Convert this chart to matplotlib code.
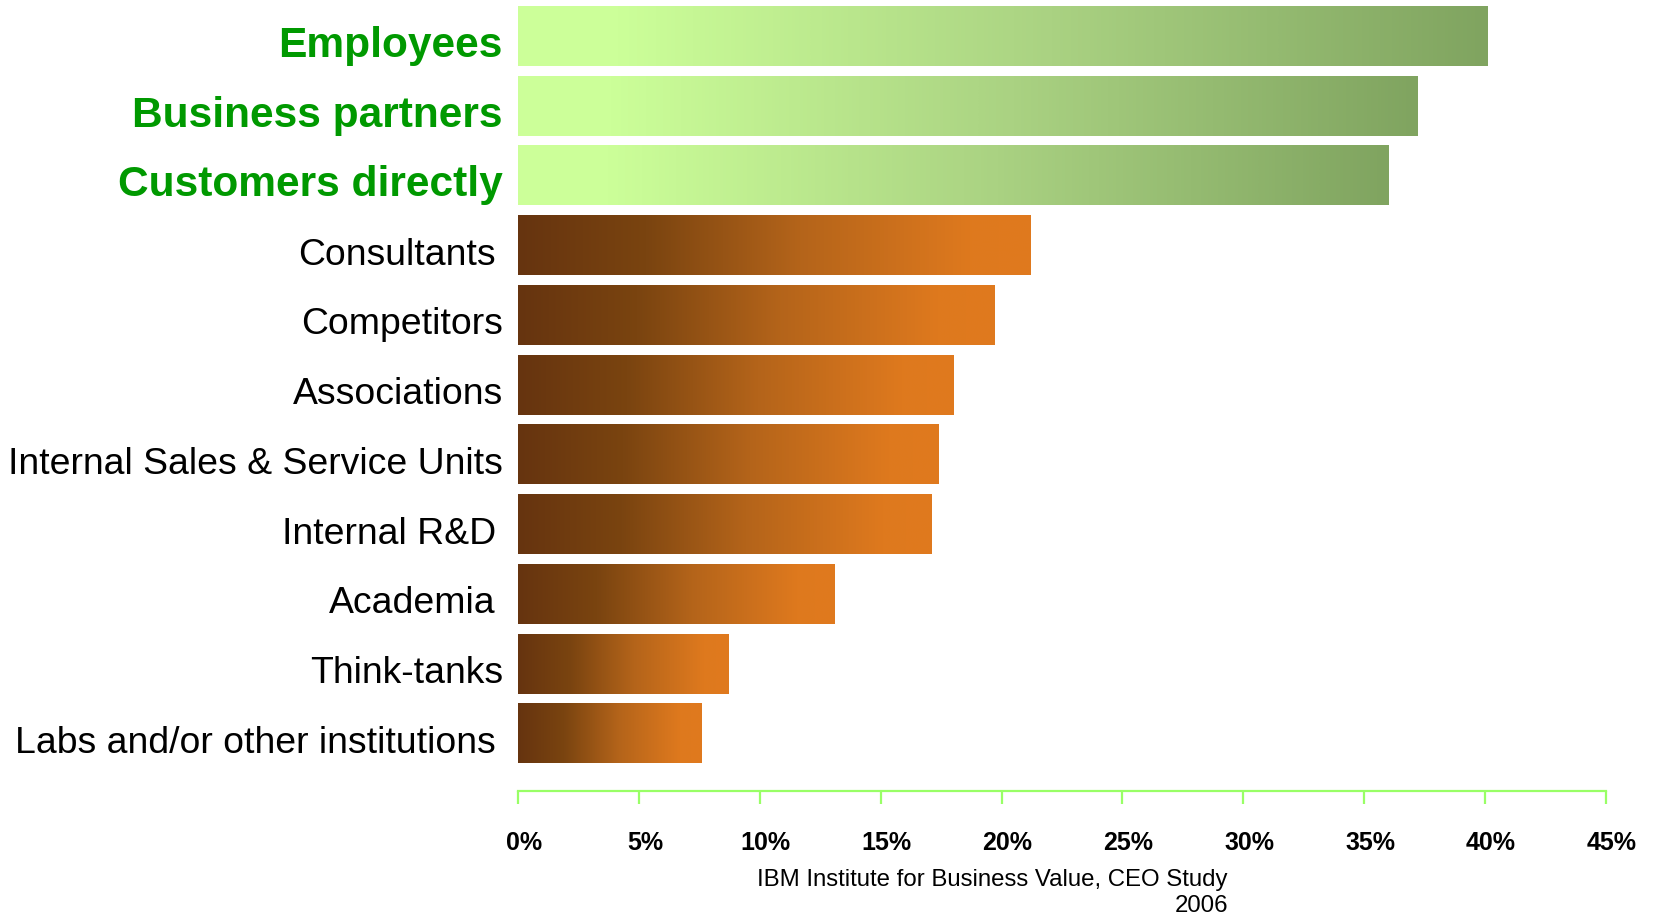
import numpy as np
import matplotlib.pyplot as plt
from matplotlib.colors import LinearSegmentedColormap
from matplotlib.transforms import blended_transform_factory, offset_copy, ScaledTranslation

plt.rcParams['font.family'] = ['Liberation Sans', 'DejaVu Sans']

categories = ['Employees', 'Business partners', 'Customers directly',
              'Consultants', 'Competitors', 'Associations',
              'Internal Sales & Service Units', 'Internal R&D', 'Academia',
              'Think-tanks', 'Labs and/or other institutions']
values = [40.1, 37.2, 36.0, 21.2, 19.7, 18.0, 17.4, 17.1, 13.1, 8.7, 7.6]
highlight = categories[:3]
indented = {'Consultants', 'Internal R&D', 'Academia', 'Labs and/or other institutions'}
ticks = list(range(0, 50, 5))
tick_labels = [f'{t}%' for t in ticks]
source = 'IBM Institute for Business Value, CEO Study\n2006'

green_cmap = LinearSegmentedColormap.from_list(
    'greens', [(0, '#CCFF99'), (0.1, '#CCFF99'), (0.55, '#AAD282'), (1, '#80A460')])
orange_cmap = LinearSegmentedColormap.from_list(
    'oranges', [(0, '#66340F'), (0.25, '#7A4410'), (0.55, '#B4641A'), (0.88, '#DE791E'), (1, '#E07A1E')])

fig = plt.figure(figsize=(16.56, 9.19), dpi=100)
ax = fig.add_axes([0.3128, 0.1393, 0.657, 0.8607])

y = np.arange(len(categories))
bars = ax.barh(y, values, height=0.86, color='none', edgecolor='none')
grad = np.linspace(0, 1, 256).reshape(1, -1)
for bar, name in zip(bars, categories):
    cmap = green_cmap if name in highlight else orange_cmap
    x0, y0 = bar.get_x(), bar.get_y()
    w, h = bar.get_width(), bar.get_height()
    im = ax.imshow(grad, cmap=cmap, extent=[x0, x0 + w, y0 + h, y0],
                   aspect='auto', interpolation='bicubic', zorder=2)
    im.set_clip_path(bar)

ax.set_xlim(0, 45)
ax.set_ylim(10.826, -0.515)
for s in ['left', 'top', 'right']:
    ax.spines[s].set_visible(False)
ax.spines['bottom'].set_color('#99FF66')
ax.spines['bottom'].set_linewidth(1.6)
ax.set_yticks([])
ax.set_xticks(ticks, tick_labels, fontweight='bold', fontsize=18)
ax.tick_params(axis='x', colors='#99FF66', length=9, width=1.6, pad=20, labelcolor='black')
shift = ScaledTranslation(6 / 100, 0, fig.dpi_scale_trans)
for lbl in ax.get_xticklabels():
    lbl.set_transform(lbl.get_transform() + shift)

tr = blended_transform_factory(ax.transAxes, ax.transData)
for yi, name in zip(y, categories):
    gap = 22 if name in indented else 15
    t = offset_copy(tr, fig=fig, x=-gap * 0.72, y=-10 * 0.72, units='points')
    if name in highlight:
        ax.text(0, yi, name, transform=t, ha='right', va='center',
                fontsize=30.6, fontweight='bold', color='#009900')
    else:
        ax.text(0, yi, name, transform=t, ha='right', va='center',
                fontsize=26.9, color='black')

fig.text(1228 / 1656, 1 - 893 / 919, source, ha='right', va='center',
         multialignment='right', fontsize=17.3)

fig.savefig('out.png', dpi=100)
